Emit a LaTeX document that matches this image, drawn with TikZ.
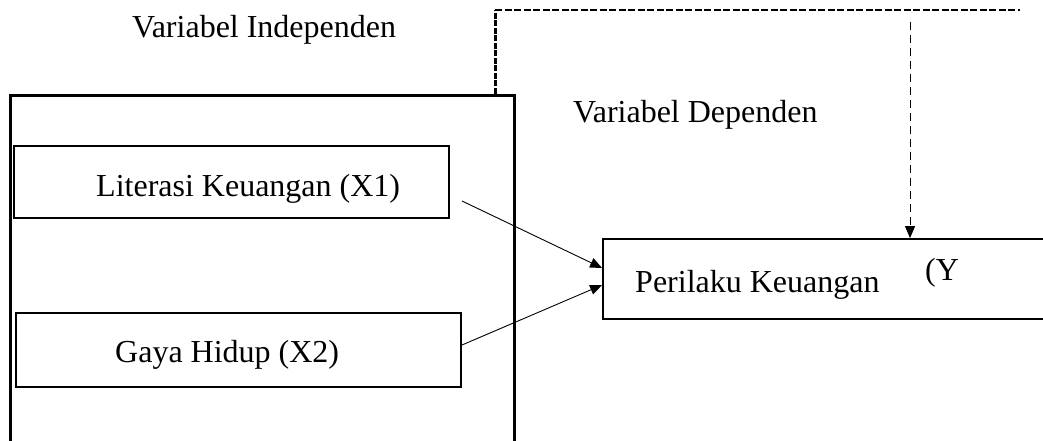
\documentclass[tikz,border=0pt]{standalone}
\usepackage{fontspec}
\setmainfont{Liberation Serif}
\usetikzlibrary{arrows.meta}
\tikzset{
  lbl/.style={anchor=base west, inner sep=0pt, font=\fontsize{32}{37}\selectfont},
  varbox/.style={draw, line width=1.8pt, inner sep=0pt, minimum width=#1},
  link/.style={line width=0.9pt, -{Triangle[length=12pt,width=10pt]}},
  frame/.style={line width=3pt},
}
\begin{document}
\begin{tikzpicture}[x=1pt,y=-1pt]
\useasboundingbox (0,0) rectangle (1043,441);
% independent-variable frame (open at bottom)
\draw[frame] (10,441) -- (10,96) -- (514,96) -- (514,441);
% dashed moderating path
\coordinate (corner) at (495,10);
\coordinate (topend) at (1020,10);
\coordinate (dstart) at (910,22);
\draw[line width=3pt, dash pattern=on 6pt off 1.5pt] (495,94) -- (corner);
\draw[line width=2pt, dash pattern=on 7pt off 2.5pt] (corner) -- (topend);
% boxes
\node[varbox=435pt, line width=1.6pt, minimum height=72pt] (x1) at (231.5,182) {};
\node[varbox=445pt, minimum height=74pt] (x2) at (238.5,350) {};
\node[varbox=450pt, minimum height=80pt] (y) at (828,279) {};
% labels
\node[lbl] (tind) at (132,38) {Variabel Independen};
\node[lbl] (tdep) at (573,123) {Variabel Dependen};
\node[lbl] (tx1) at (96,196.5) {Literasi Keuangan (X1)};
\node[lbl] (tx2) at (115,362) {Gaya Hidup (X2)};
\node[lbl] (ty) at (635,292) {Perilaku Keuangan};
\node[lbl] (tyy) at (925,280) {(Y};
% connectors
\coordinate (s1) at (462,201);
\coordinate (s2) at (462,345);
\draw[link] (s1) -- ([yshift=11pt]y.west);
\draw[link] (s2) -- ([yshift=-6pt]y.west);
\draw[link, dash pattern=on 8pt off 5pt] (dstart) -- ([xshift=82pt]y.north);
\end{tikzpicture}
\end{document}
